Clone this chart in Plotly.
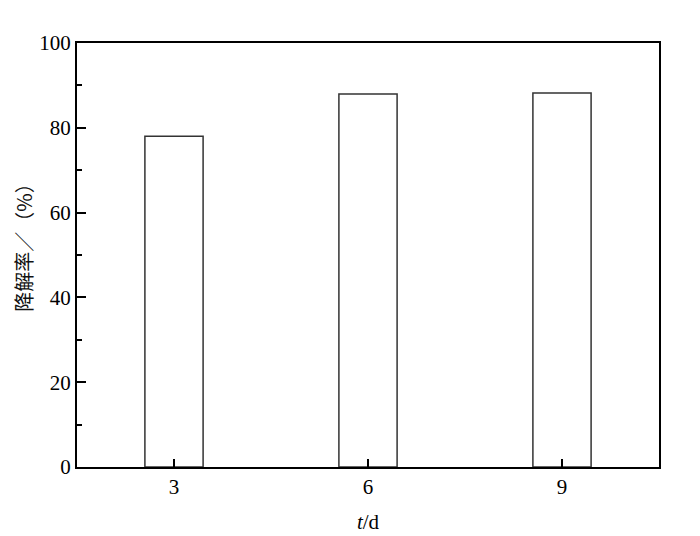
import plotly.graph_objects as go

days = [3, 6, 9]
rates = [78.0, 88.0, 88.2]
y_ticks = [0, 20, 40, 60, 80, 100]
y_title = "降解率／（%）"
x_title = "<i>t</i>/d"

font_fam = "Liberation Serif, Times New Roman, Noto Sans CJK SC, serif"

fig = go.Figure(go.Bar(
    x=days, y=rates, width=0.9,
    marker=dict(color="white", line=dict(color="#333333", width=1.5)),
))

fig.update_layout(
    width=692, height=528,
    margin=dict(l=69, r=41, t=35, b=69, autoexpand=False),
    plot_bgcolor="white", paper_bgcolor="white",
    showlegend=False,
    font=dict(family=font_fam, size=21, color="black"),
)
fig.add_annotation(
    text=y_title, xref="paper", yref="paper", x=-0.092, y=0.53,
    textangle=-90, showarrow=False, xanchor="center", yanchor="middle",
    font=dict(size=20, family="Noto Sans CJK SC, Liberation Serif", color="#111111"),
)
fig.update_xaxes(
    range=[1.5, 10.5], tickvals=days, ticktext=[str(d) for d in days],
    ticks="inside", ticklen=8, tickwidth=1.5, tickcolor="black",
    showline=True, linecolor="black", linewidth=2, mirror=True,
    showgrid=False, zeroline=False, layer="above traces", automargin=False,
    title=dict(text=x_title, font=dict(size=21), standoff=16),
)
fig.update_yaxes(
    range=[0, 100], tickvals=y_ticks,
    ticks="inside", ticklen=9, tickwidth=2, tickcolor="black",
    minor=dict(ticks="inside", ticklen=5, tickwidth=1.5, tickcolor="black", dtick=10, tick0=0),
    showline=True, linecolor="black", linewidth=2, mirror=True,
    showgrid=False, zeroline=False, automargin=False,
)

fig.write_html("out.html")
